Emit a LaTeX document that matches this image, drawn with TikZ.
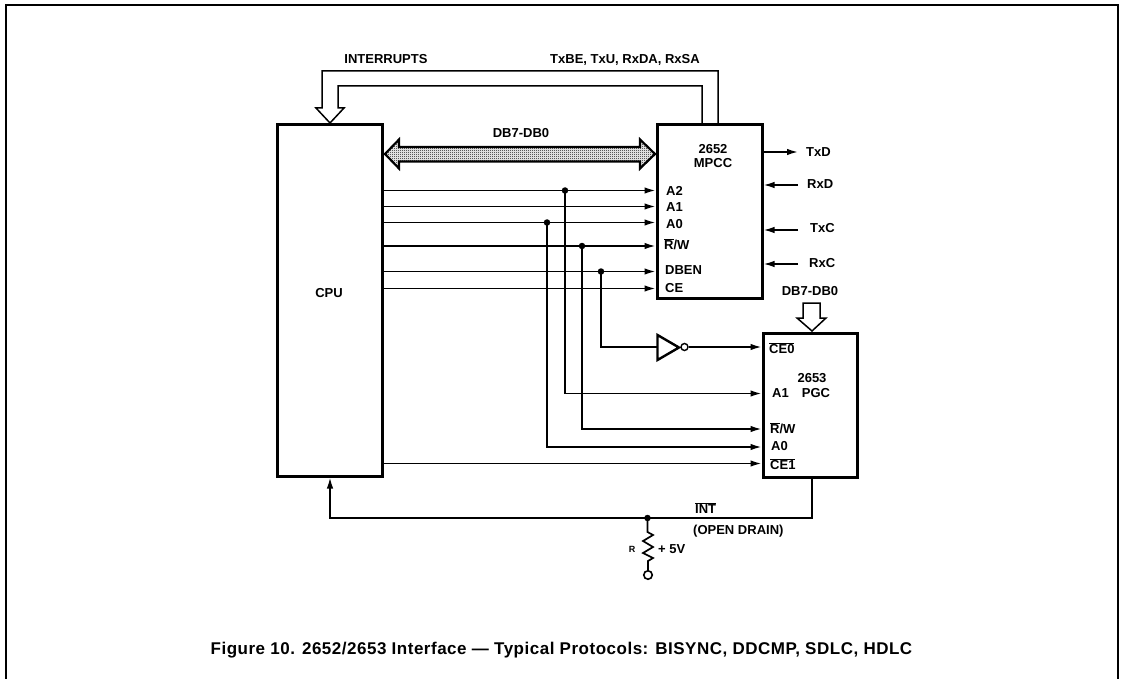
\documentclass[tikz,border=0pt]{standalone}
\usepackage{fontspec}
\setmainfont{Liberation Sans}
\usetikzlibrary{arrows.meta,patterns}
\newcommand\ovl[1]{$\overline{\hbox{#1}}$}
\pgfdeclarepatternformonly{finechk}{\pgfqpoint{0pt}{0pt}}{\pgfqpoint{2pt}{2pt}}{\pgfqpoint{2pt}{2pt}}{%
  \pgfpathrectangle{\pgfqpoint{0pt}{0pt}}{\pgfqpoint{1pt}{1pt}}%
  \pgfpathrectangle{\pgfqpoint{1pt}{1pt}}{\pgfqpoint{1pt}{1pt}}%
  \pgfusepath{fill}}
\tikzset{
  x=1pt,y=-1pt,
  chip/.style={draw,line width=3pt,inner sep=0pt,minimum width=#1},
  lbl/.style={font=\fontsize{13}{15}\selectfont\bfseries,inner sep=0pt,text height=9.4pt,text depth=0pt},
  pinl/.style={lbl,anchor=west},
  sig/.style={line width=1.6pt},
  sigto/.style={sig,-{Latex[length=11pt,width=6.5pt]}},
  dot/.style={circle,fill=black,inner sep=0pt,minimum size=6.5pt},
  bus/.style={line width=1.5pt,line join=miter},
}
\begin{document}
\begin{tikzpicture}
\useasboundingbox (0,0) rectangle (1124,679);
\fill[white] (0,0) rectangle (1124,679);
% page frame
\draw[line width=1.6pt] (6,679) -- (6,5) -- (1118,5) -- (1118,679);
% chips
\node[chip=105pt,minimum height=351pt] (cpu) at (329.5,300.5) {};
\node[chip=105pt,minimum height=173pt] (mpcc) at (709.5,211.5) {};
\node[chip=94pt,minimum height=144pt] (pgc) at (810,405) {};
% pin anchors
\foreach \n/\y in {a2/190.5,a1/206.5,a0/222.5,rw/246,dben/271.5,ce/288.5}
  \coordinate (p\n) at (mpcc.west |- 0,\y);
\foreach \n/\y in {ceo/347,qa1/393.5,qrw/429,qa0/447,ceone/463.5}
  \coordinate (p\n) at (pgc.west |- 0,\y);
\coordinate (ja2) at (565,190.5);
\coordinate (ja0) at (547,222.5);
\coordinate (jrw) at (582,246);
\coordinate (jdb) at (601,271.5);
% CPU to MPCC
\foreach \n in {a2,a1,a0,rw,dben,ce}
  \draw[sigto] (cpu.east |- p\n) -- (p\n);
% taps
\node[dot] (da2) at (ja2) {};
\node[dot] (da0) at (ja0) {};
\node[dot] (drw) at (jrw) {};
\node[dot] (ddb) at (jdb) {};
\draw[sigto] (da2.center) |- (pqa1);
\draw[sigto] (da0.center) |- (pqa0);
\draw[sigto] (drw.center) |- (pqrw);
% inverter
\draw[line width=2.4pt,line join=miter] (657.5,335) -- (679,347.5) -- (657.5,360) -- cycle;
\coordinate (invin) at (657,347);
\node[circle,draw,line width=1.4pt,fill=white,inner sep=0pt,minimum size=7pt] (bub) at (684.5,347) {};
\draw[sig] (ddb.center) |- (invin);
\draw[sigto] (bub.east) -- (pceo);
\draw[sigto] (cpu.east |- pceone) -- (pceone);
% INT line
\coordinate (intc) at (812,518);
\coordinate (intl) at (330,518);
\node[dot] (jint) at (647.5,518) {};
\draw[sig] (pgc.south -| intc) -- (intc) -- (jint.center);
\draw[sigto] (jint.center) -- (intl) -- (cpu.south -| intl);
% resistor
\node[circle,draw,line width=1.6pt,fill=white,inner sep=0pt,minimum size=8.5pt] (vcc) at (648,575) {};
\draw[line width=1.7pt,line join=miter] (jint.center) -- (647.5,532) -- (653,535) -- (643,541) -- (653,547) -- (643,553) -- (653,558) -- (648,561) -- (vcc.north);
% output / input pins
\coordinate (etxd) at (798,152);
\coordinate (erxd) at (798,185);
\coordinate (etxc) at (798,230);
\coordinate (erxc) at (798,264);
\draw[sigto] (mpcc.east |- etxd) -- (etxd);
\draw[sigto] (erxd) -- (mpcc.east |- erxd);
\draw[sigto] (etxc) -- (mpcc.east |- etxc);
\draw[sigto] (erxc) -- (mpcc.east |- erxc);
% interrupts bus
\draw[bus] (mpcc.north -| 718,0) -- (718,71) -- (322,71) -- (322,108) -- (316,108) -- (330,123) -- (344,108) -- (338,108) -- (338,86) -- (702,86) -- (mpcc.north -| 702,0);
% data bus
\draw[line width=2.2pt,line join=miter,pattern=finechk] (385,154) -- (399,139.5) -- (399,147) -- (640,147) -- (640,139.5) -- (655,154) -- (640,168.5) -- (640,161.5) -- (399,161.5) -- (399,168.5) -- cycle;
% PGC data bus
\draw[bus] (803,303) -- (820,303) -- (820,318) -- (826,318) -- (812,331) -- (797,318) -- (803,318) -- cycle;
% labels
\node[lbl] (tint) at (386,59) {INTERRUPTS};
\node[lbl] (tsta) at (625,59) {TxBE, TxU, RxDA, RxSA};
\node[lbl] (tdb) at (521,133) {DB7-DB0};
\node[lbl] (tcpu) at (329,293) {CPU};
\node[lbl] (t52) at (713,149) {2652};
\node[lbl] (tmp) at (713,163) {MPCC};
\node[pinl] (la2) at (666,191) {A2};
\node[pinl] (la1) at (666,207) {A1};
\node[pinl] (la0) at (666,224) {A0};
\node[pinl] (lrw) at (664,244.5) {\ovl{R}/W};
\node[pinl] (ldb) at (665,270) {DBEN};
\node[pinl] (lce) at (665,288) {CE};
\node[pinl] (ltxd) at (806,152) {TxD};
\node[pinl] (lrxd) at (807,184) {RxD};
\node[pinl] (ltxc) at (810,228) {TxC};
\node[pinl] (lrxc) at (809,263) {RxC};
\node[lbl] (tdb2) at (810,291) {DB7-DB0};
\node[pinl] (lce0) at (769,349) {\ovl{CE0}};
\node[lbl] (t53) at (812,378) {2653};
\node[lbl] (tpg) at (816,393) {PGC};
\node[pinl] (qa1) at (772,393) {A1};
\node[pinl] (qrw) at (770,429) {\ovl{R}/W};
\node[pinl] (qa0) at (771,446) {A0};
\node[pinl] (qce) at (770,465) {\ovl{CE1}};
\node[pinl] (lin) at (695,509) {\ovl{INT}};
\node[pinl] (lod) at (693,530) {(OPEN DRAIN)};
\node[lbl,font=\fontsize{9}{10}\selectfont\bfseries,text height=6.5pt] (lr) at (632,549) {R};
\node[pinl] (l5v) at (658,549) {+ 5V};
\node[lbl,font=\fontsize{17}{19}\selectfont\bfseries\addfontfeature{LetterSpace=3},text height=12pt] (cap) at (561.5,648) {Figure 10. 2652/2653 Interface — Typical Protocols: BISYNC, DDCMP, SDLC, HDLC};
\end{tikzpicture}
\end{document}
